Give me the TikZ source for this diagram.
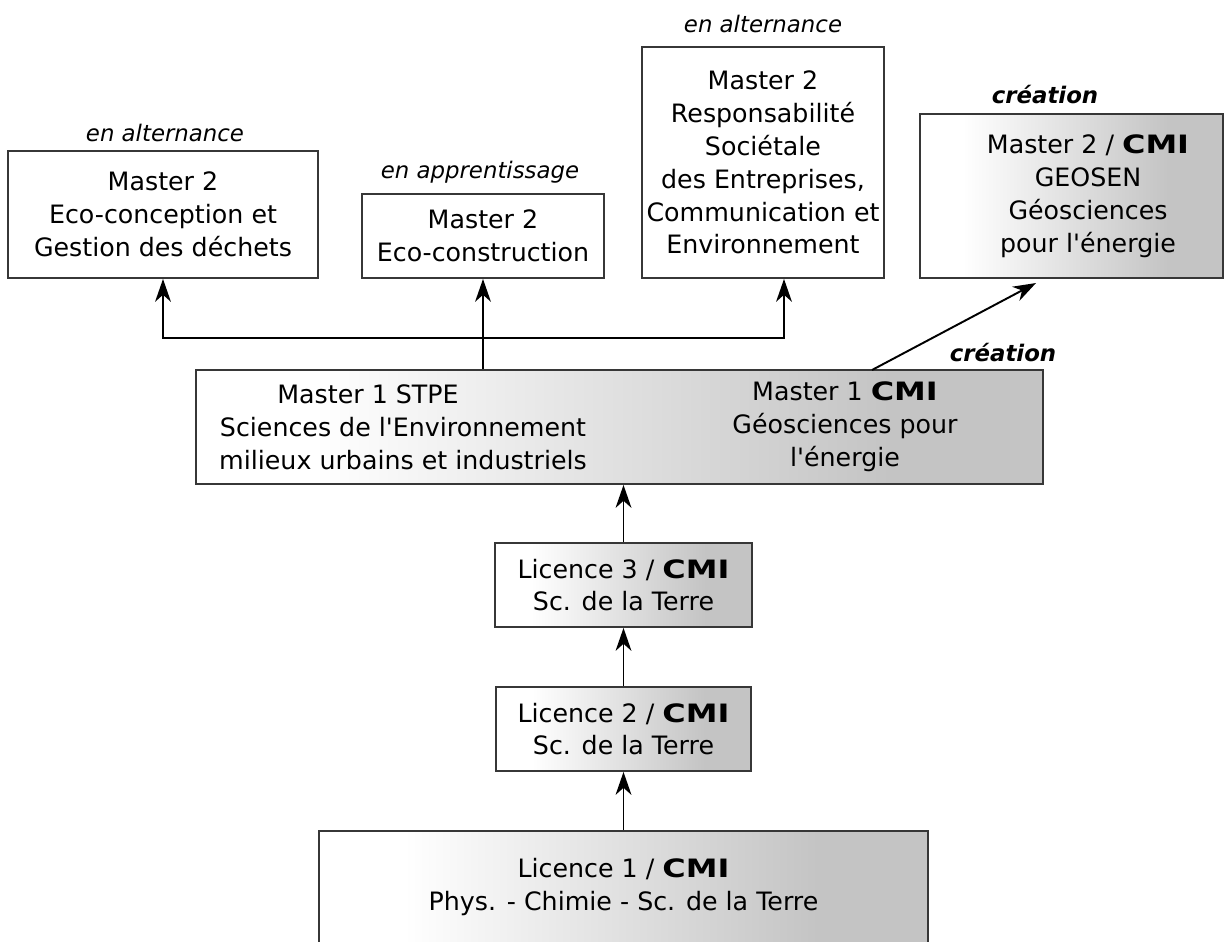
\documentclass[tikz,border=0pt]{standalone}
\usepackage{fontspec}
\setmainfont{DejaVu Sans}
\newfontfamily\cmifam[FakeStretch=1.26]{DejaVu Sans}
\newcommand{\cmi}{{\cmifam\bfseries CMI}}
\usetikzlibrary{arrows.meta}
\definecolor{fadegray}{RGB}{196,196,196}
\definecolor{boxline}{RGB}{55,55,55}
\pgfdeclarehorizontalshading{boxfade}{100bp}{color(0bp)=(white); color(32bp)=(white); color(66bp)=(fadegray); color(100bp)=(fadegray)}
\tikzset{
  plainbox/.style={draw=boxline, line width=1.1pt, inner sep=0pt, align=center,
    font=\fontsize{14.4}{18.7}\selectfont},
  cmibox/.style={plainbox, shade, shading=boxfade},
  remark/.style={font=\fontsize{13}{15}\selectfont\itshape},
  arr/.style={-{Stealth[length=13pt, width=9pt, inset=4pt]}, line width=1.1pt},
}
\begin{document}
\begin{tikzpicture}[x=0.02cm, y=-0.02cm]
        \useasboundingbox (0,0) rectangle (1226,941);
        % Master 2
        \node[plainbox, minimum width=6.2cm, minimum height=2.54cm] (mtwoeco) at (163,214.5) {Master 2\\Eco-conception et\\Gestion des déchets};
        \node[plainbox, minimum width=4.84cm, minimum height=1.68cm] (mtwobuild) at (483,236) {Master 2\\Eco-construction};
        \node[plainbox, minimum width=4.84cm, minimum height=4.62cm] (mtworse) at (763,162.5) {Master 2\\Responsabilité\\Sociétale\\des Entreprises,\\Communication et\\Environnement};
        \node[cmibox, minimum width=6.06cm, minimum height=3.28cm] (mtwogeo) at (1071.5,196) {};
        \node[plainbox, draw=none] (mtwogeotext) at (1088,196) {Master 2 / \cmi\\GEOSEN\\Géosciences\\pour l\textquotesingle énergie};
        \node[remark] (altone) at (165,133) {en alternance};
        \node[remark] (appr) at (480,172) {en apprentissage};
        \node[remark] (alttwo) at (763,24) {en alternance};
        \node[remark, font=\fontsize{13}{15}\selectfont\bfseries\itshape] (newtwo) at (1045,95) {création};
        % Master 1
        \node[cmibox, minimum width=16.94cm, minimum height=2.28cm] (mone) at (619.5,427) {};
        \node[plainbox, draw=none] (monestpe) at (403,427) {Master 1 STPE\hspace*{1.4cm}\\Sciences de l\textquotesingle Environnement\\milieux urbains et industriels};
        \node[plainbox, draw=none] (monecmi) at (845,427) {Master 1 \cmi\\Géosciences pour\\l\textquotesingle énergie};
        \node[remark, font=\fontsize{13}{15}\selectfont\bfseries\itshape] (newone) at (1003,353) {création};
        % Licences
        \node[cmibox, minimum width=5.14cm, minimum height=1.68cm] (lthree) at (623.5,585) {Licence 3 / \cmi\\Sc. de la Terre};
        \node[cmibox, minimum width=5.1cm, minimum height=1.68cm] (ltwo) at (623.5,729) {Licence 2 / \cmi\\Sc. de la Terre};
        \node[cmibox, minimum width=12.18cm, minimum height=2.24cm] (lone) at (623.5,887) {Licence 1 / \cmi\\Phys. - Chimie - Sc. de la Terre};
        % connectors
        \coordinate (split) at (483,338);
        \coordinate (rsejoin) at (784,338);
        \coordinate (geofoot) at (872,370);
        \coordinate (geoend) at (1036,283);
        \draw[arr] (lone.north) -- (ltwo.south);
        \draw[arr] (ltwo.north) -- (lthree.south);
        \draw[arr] (lthree.north) -- (mone.south -| lthree.north);
        \draw[arr] (mone.north -| split) -- (mtwobuild.south);
        \draw[arr] (split) -| (mtwoeco.south);
        \draw[arr] (split) -| (mtworse.south -| rsejoin);
        \draw[arr] (geofoot) -- (geoend);
\end{tikzpicture}
\end{document}
